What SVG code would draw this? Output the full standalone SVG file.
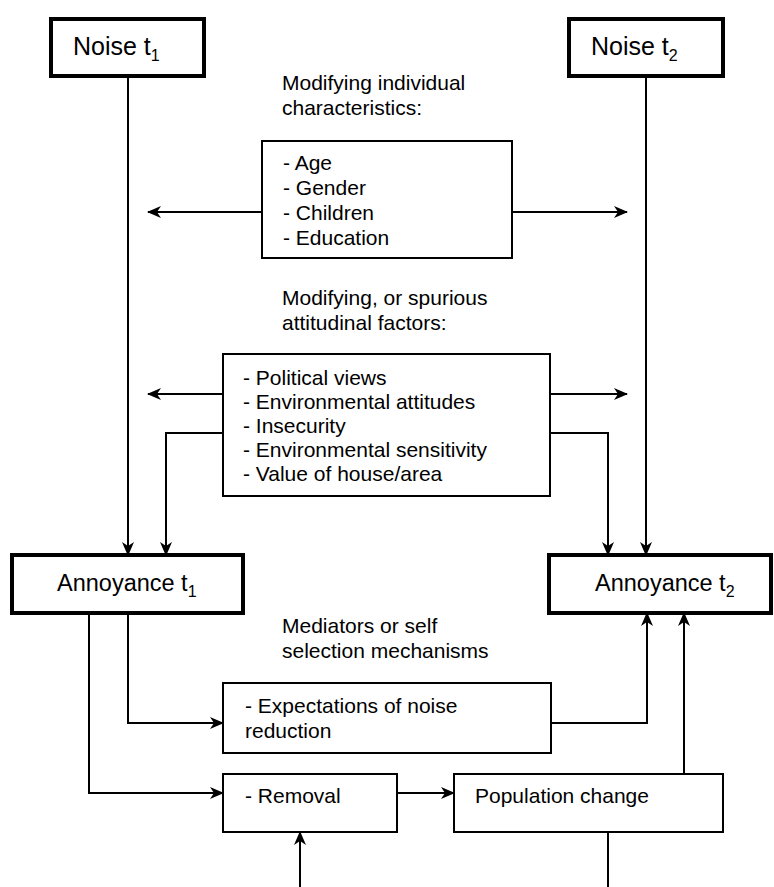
<svg xmlns="http://www.w3.org/2000/svg" width="774" height="887" viewBox="0 0 774 887">
<style>
  text { font-family: "Liberation Sans", Arial, sans-serif; fill: #000; }
  .big { font-size: 25px; }
  .mid { font-size: 23.5px; }
  .sm { font-size: 21px; }
  .sub { font-size: 16px; }
  .thick { fill: #fff; stroke: #000; stroke-width: 4; }
  .thin { fill: #fff; stroke: #000; stroke-width: 2; }
  .conn { fill: none; stroke: #000; stroke-width: 2; }
</style>
<defs>
  <marker id="arr" viewBox="0 0 14 12" refX="13" refY="6" markerWidth="14" markerHeight="12" markerUnits="userSpaceOnUse" orient="auto">
    <path d="M0,0 L14,6 L0,12 L4,6 z" fill="#000"/>
  </marker>
</defs>
<rect width="774" height="887" fill="#fff"/>

<g id="connectors">
  <path class="conn" d="M128,76 V555" marker-end="url(#arr)"/>
  <path class="conn" d="M646,76 V555" marker-end="url(#arr)"/>
  <path class="conn" d="M262,212 H148" marker-end="url(#arr)"/>
  <path class="conn" d="M512,212 H627" marker-end="url(#arr)"/>
  <path class="conn" d="M223,394 H148" marker-end="url(#arr)"/>
  <path class="conn" d="M550,394 H627" marker-end="url(#arr)"/>
  <path class="conn" d="M223,433 H166 V555" marker-end="url(#arr)"/>
  <path class="conn" d="M550,433 H608 V555" marker-end="url(#arr)"/>
  <path class="conn" d="M128,613 V723 H223" marker-end="url(#arr)"/>
  <path class="conn" d="M89,613 V793 H223" marker-end="url(#arr)"/>
  <path class="conn" d="M551,723 H647 V613" marker-end="url(#arr)"/>
  <path class="conn" d="M684,774 V613" marker-end="url(#arr)"/>
  <path class="conn" d="M397,793 H454" marker-end="url(#arr)"/>
  <path class="conn" d="M300,887 V832" marker-end="url(#arr)"/>
  <path class="conn" d="M608,832 V887"/>
</g>

<g id="noise-t1">
  <rect class="thick" x="51" y="19" width="153" height="57"/>
  <text class="big" x="73" y="55">Noise t<tspan class="sub" dy="6">1</tspan></text>
</g>
<g id="noise-t2">
  <rect class="thick" x="569" y="19" width="154" height="57"/>
  <text class="big" x="591" y="55">Noise t<tspan class="sub" dy="6">2</tspan></text>
</g>

<g id="label-individual">
  <text class="sm" x="282" y="90">Modifying individual</text>
  <text class="sm" x="282" y="115">characteristics:</text>
</g>
<g id="individual-box">
  <rect class="thin" x="262" y="141" width="250" height="117"/>
  <text class="sm" x="283" y="170">- Age</text>
  <text class="sm" x="283" y="195">- Gender</text>
  <text class="sm" x="283" y="220">- Children</text>
  <text class="sm" x="283" y="245">- Education</text>
</g>

<g id="label-attitudinal">
  <text class="sm" x="282" y="305">Modifying, or spurious</text>
  <text class="sm" x="282" y="330">attitudinal factors:</text>
</g>
<g id="attitudinal-box">
  <rect class="thin" x="223" y="354" width="327" height="142"/>
  <text class="sm" x="243" y="385">- Political views</text>
  <text class="sm" x="243" y="409">- Environmental attitudes</text>
  <text class="sm" x="243" y="433">- Insecurity</text>
  <text class="sm" x="243" y="457">- Environmental sensitivity</text>
  <text class="sm" x="243" y="481">- Value of house/area</text>
</g>

<g id="annoyance-t1">
  <rect class="thick" x="12" y="555" width="231" height="58"/>
  <text class="mid" x="57" y="591">Annoyance t<tspan class="sub" dy="6">1</tspan></text>
</g>
<g id="annoyance-t2">
  <rect class="thick" x="549" y="555" width="222" height="58"/>
  <text class="mid" x="595" y="591">Annoyance t<tspan class="sub" dy="6">2</tspan></text>
</g>

<g id="label-mediators">
  <text class="sm" x="282" y="633">Mediators or self</text>
  <text class="sm" x="282" y="658">selection mechanisms</text>
</g>
<g id="expectations-box">
  <rect class="thin" x="223" y="683" width="328" height="70"/>
  <text class="sm" x="245" y="713">- Expectations of noise</text>
  <text class="sm" x="245" y="738">reduction</text>
</g>
<g id="removal-box">
  <rect class="thin" x="223" y="774" width="174" height="58"/>
  <text class="sm" x="245" y="803">- Removal</text>
</g>
<g id="population-box">
  <rect class="thin" x="454" y="774" width="269" height="58"/>
  <text class="sm" x="475" y="803">Population change</text>
</g>
</svg>
